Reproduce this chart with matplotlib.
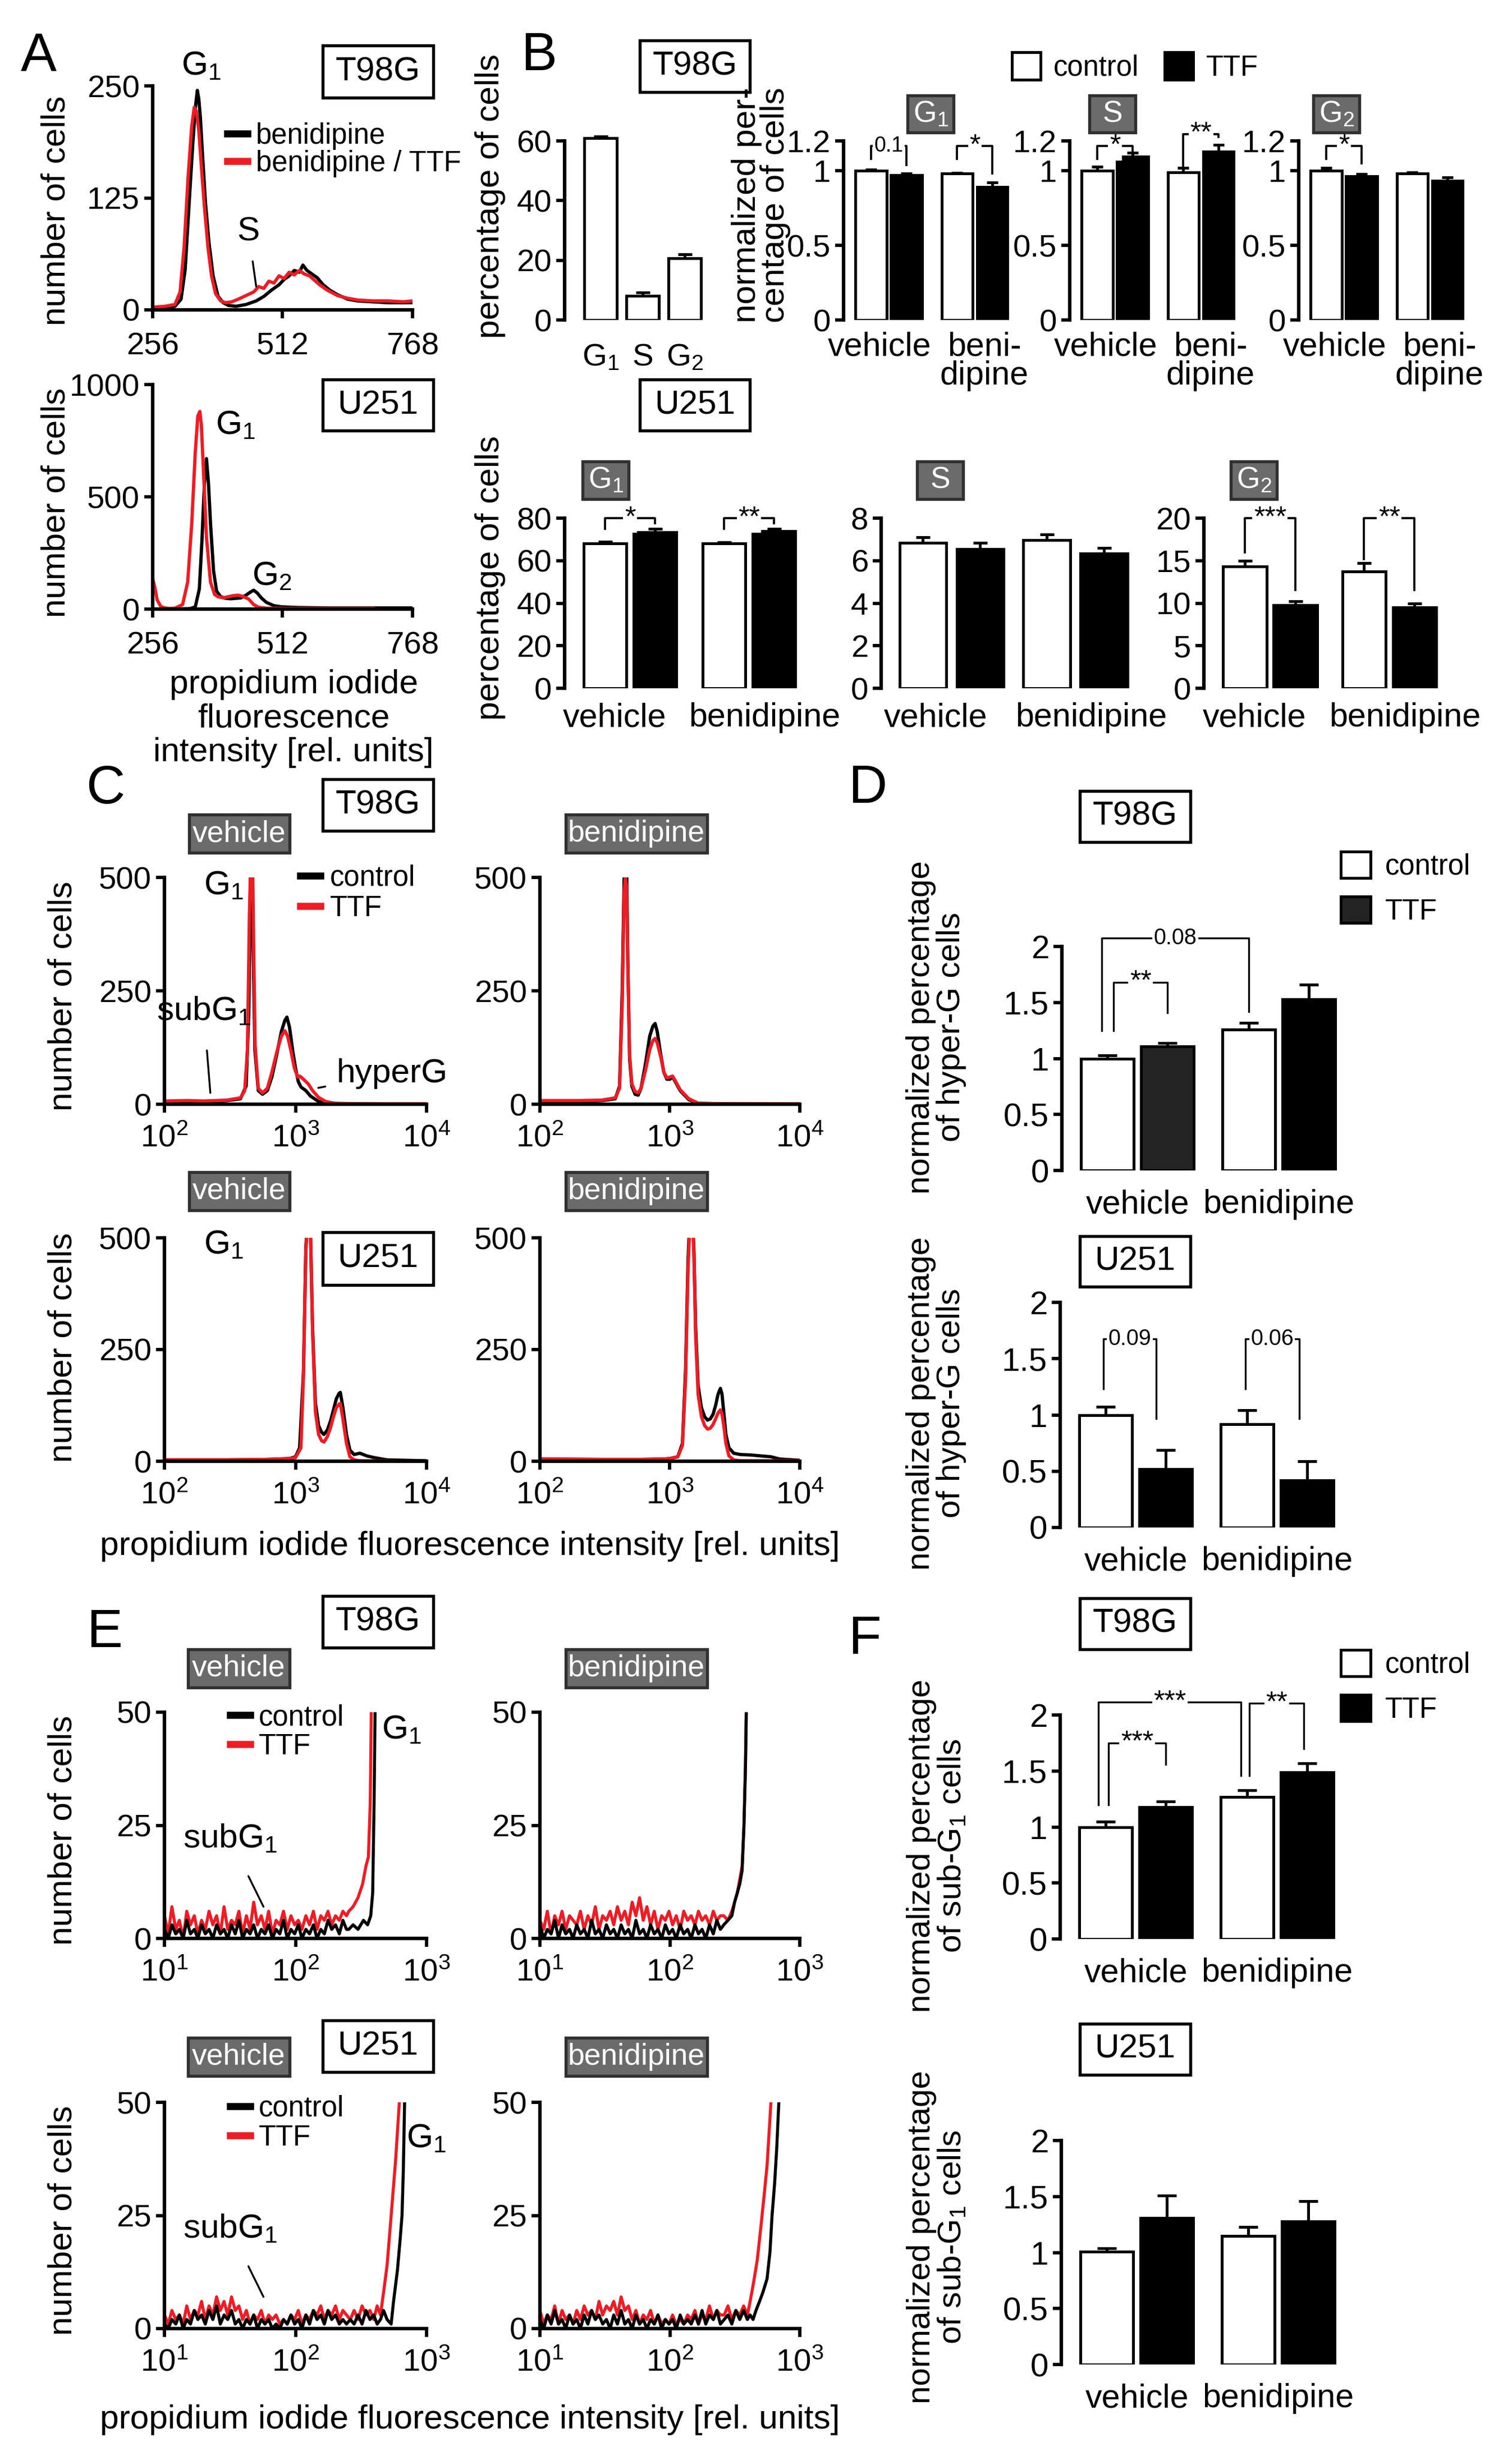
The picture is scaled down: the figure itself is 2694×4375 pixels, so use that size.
import numpy as np
import matplotlib
matplotlib.use('Agg')
import matplotlib.pyplot as plt
from matplotlib.patches import Rectangle
from matplotlib.ticker import NullLocator

plt.rcParams['font.family'] = ['Liberation Sans', 'DejaVu Sans']
plt.rcParams['mathtext.default'] = 'regular'
plt.rcParams['axes.linewidth'] = 1.5

RED = '#ee1c24'

# ---------------- data ----------------
# A: PI histograms, linear channels 256-768
a_t98g_beni_x = [256, 280, 300, 312, 320, 328, 335, 340, 344, 347, 350, 354, 360, 367, 375, 385, 395, 405, 420, 440,
                 460, 475, 490, 505, 515, 525, 535, 545, 552, 560, 570, 580, 592, 605, 620, 640, 660, 690, 720, 750, 768]
a_t98g_beni_y = [2, 3, 4, 12, 45, 120, 185, 225, 245, 235, 215, 175, 120, 75, 38, 15, 8, 5, 4, 6,
                 10, 15, 22, 28, 34, 38, 44, 42, 50, 44, 40, 36, 28, 22, 17, 12, 10, 9, 8, 8, 8]
a_t98g_ttf_x = [256, 280, 300, 310, 318, 326, 333, 338, 342, 347, 352, 358, 365, 372, 380, 390, 400, 412, 425, 440,
                455, 465, 475, 485, 495, 505, 515, 525, 535, 545, 555, 565, 575, 585, 600, 620, 640, 660, 690, 720, 750, 768]
a_t98g_ttf_y = [3, 4, 6, 20, 70, 150, 205, 226, 222, 200, 160, 115, 70, 38, 18, 10, 8, 9, 12, 16,
                20, 26, 24, 32, 30, 38, 35, 42, 39, 44, 40, 38, 33, 28, 22, 16, 13, 11, 10, 10, 9, 10]

a_u251_beni_x = [256, 300, 330, 340, 348, 353, 358, 362, 366, 370, 376, 382, 390, 400, 410, 420, 430, 440, 448, 455,
                 462, 470, 480, 495, 510, 540, 600, 680, 768]
a_u251_beni_y = [0, 0, 2, 10, 90, 300, 560, 670, 560, 380, 170, 80, 55, 48, 46, 48, 50, 62, 75, 84,
                 72, 50, 30, 15, 10, 7, 5, 5, 5]
a_u251_ttf_x = [256, 260, 265, 272, 280, 290, 300, 315, 325, 333, 340, 345, 349, 352, 356, 362, 370, 378, 385, 395,
                405, 415, 425, 435, 445, 455, 465, 480, 520, 600, 692]
a_u251_ttf_y = [135, 100, 40, 12, 5, 3, 4, 20, 120, 380, 700, 860, 880, 820, 620, 320, 120, 65, 55, 50,
                55, 60, 62, 55, 45, 20, 8, 4, 3, 3, 3]

# B: cell-cycle phases
phases = ['G$_1$', 'S', 'G$_2$']
b_t98g_pct = [61.0, 8.0, 20.7]
b_t98g_pct_err = [0.5, 1.2, 1.3]

b_t98g_g1_ctrl, b_t98g_g1_ctrl_err = [1.00, 0.98], [0.01, 0.005]
b_t98g_g1_ttf, b_t98g_g1_ttf_err = [0.97, 0.89], [0.01, 0.03]
b_t98g_s_ctrl, b_t98g_s_ctrl_err = [1.00, 0.99], [0.026, 0.03]
b_t98g_s_ttf, b_t98g_s_ttf_err = [1.095, 1.13], [0.025, 0.045]
b_t98g_g2_ctrl, b_t98g_g2_ctrl_err = [1.00, 0.98], [0.02, 0.01]
b_t98g_g2_ttf, b_t98g_g2_ttf_err = [0.963, 0.933], [0.014, 0.022]

b_u251_g1_ctrl, b_u251_g1_ctrl_err = [68.0, 68.0], [0.8, 0.6]
b_u251_g1_ttf, b_u251_g1_ttf_err = [73.4, 74.0], [1.5, 1.0]
b_u251_s_ctrl, b_u251_s_ctrl_err = [6.84, 6.97], [0.27, 0.26]
b_u251_s_ttf, b_u251_s_ttf_err = [6.55, 6.34], [0.29, 0.26]
b_u251_g2_ctrl, b_u251_g2_ctrl_err = [14.3, 13.7], [0.7, 1.0]
b_u251_g2_ttf, b_u251_g2_ttf_err = [9.8, 9.5], [0.45, 0.5]

# C: PI histograms, log channels 10^2-10^4
c_t98g_veh_ctrl_x = [100, 150, 200, 300, 380, 420, 440, 455, 465, 475, 490, 520, 560, 610, 660, 720, 780, 830, 860, 900,
                     950, 1000, 1050, 1100, 1200, 1300, 1500, 1800, 2500, 5000, 10000]
c_t98g_veh_ctrl_y = [5, 6, 5, 8, 12, 40, 200, 520, 540, 350, 120, 30, 22, 30, 60, 110, 160, 185, 192, 170,
                     120, 80, 50, 38, 30, 18, 6, 2, 1, 0, 0]
c_t98g_veh_ttf_x = [100, 150, 200, 300, 380, 410, 430, 445, 458, 468, 478, 492, 520, 560, 610, 660, 720, 780, 830, 870,
                    920, 980, 1040, 1080, 1150, 1250, 1350, 1500, 1700, 2000, 3000, 10000]
c_t98g_veh_ttf_y = [7, 8, 7, 9, 14, 30, 120, 420, 560, 600, 380, 130, 35, 25, 35, 70, 115, 150, 162, 150,
                    120, 80, 60, 62, 55, 45, 30, 15, 6, 2, 1, 1]
c_t98g_beni_x = [100, 200, 300, 380, 410, 430, 445, 455, 465, 475, 490, 510, 540, 570, 600, 650, 700, 740, 770, 800,
                 850, 900, 950, 1000, 1050, 1100, 1200, 1400, 1660, 2500, 10000]
c_t98g_beni_ctrl_y = [6, 6, 8, 12, 40, 250, 500, 560, 520, 320, 100, 40, 22, 20, 35, 90, 150, 172, 178, 160,
                      110, 70, 55, 55, 60, 50, 30, 10, 2, 1, 0]
c_t98g_beni_ttf_y = [8, 8, 9, 14, 35, 220, 470, 498, 480, 300, 110, 45, 28, 25, 35, 75, 120, 140, 145, 135,
                     105, 70, 58, 60, 62, 52, 32, 12, 2, 1, 1]

c_u251_veh_ctrl_x = [100, 300, 600, 900, 1000, 1075, 1150, 1200, 1250, 1300, 1350, 1420, 1500, 1580, 1650,
                     1750, 1850, 1950, 2050, 2150, 2200, 2300, 2450, 2600, 2800, 3100, 3500, 4000, 5000, 10000]
c_u251_veh_ctrl_y = [3, 3, 4, 6, 10, 30, 200, 480, 560, 520, 300, 130, 80, 65, 60,
                     70, 90, 115, 140, 152, 154, 120, 60, 25, 15, 18, 12, 8, 3, 1]
c_u251_veh_ttf_x = [100, 300, 600, 900, 1000, 1100, 1150, 1200, 1250, 1300, 1350, 1420, 1500, 1580, 1650,
                    1750, 1850, 1950, 2050, 2150, 2200, 2300, 2450, 2600, 2800, 3100, 10000]
c_u251_veh_ttf_y = [3, 3, 4, 6, 8, 30, 190, 470, 560, 520, 290, 110, 60, 46, 43,
                    55, 75, 100, 120, 128, 129, 95, 40, 10, 3, 1, 0]
c_u251_beni_x = [100, 300, 600, 900, 1000, 1150, 1250, 1320, 1380, 1430, 1480, 1530, 1580, 1650, 1750, 1850, 1950,
                 2050, 2150, 2250, 2350, 2450, 2520, 2600, 2700, 2850, 3100, 3500, 4200, 5000, 6000, 7000, 10000]
c_u251_beni_ctrl_y = [5, 4, 4, 5, 6, 10, 40, 200, 450, 560, 560, 480, 300, 170, 120, 100, 92,
                      95, 105, 125, 150, 163, 150, 110, 60, 30, 18, 15, 14, 12, 10, 5, 2]
c_u251_beni_ttf_y = [5, 4, 4, 5, 6, 10, 35, 180, 430, 540, 560, 470, 280, 150, 100, 80, 72,
                     74, 82, 95, 108, 115, 105, 80, 40, 12, 3, 1, 1, 1, 1, 1, 1]

# D: normalized hyper-G
treatments = ['vehicle', 'benidipine']
d_t98g_ctrl, d_t98g_ctrl_err = [1.00, 1.26], [0.03, 0.06]
d_t98g_ttf, d_t98g_ttf_err = [1.11, 1.53], [0.03, 0.13]
d_u251_ctrl, d_u251_ctrl_err = [1.00, 0.92], [0.07, 0.12]
d_u251_ttf, d_u251_ttf_err = [0.52, 0.42], [0.17, 0.17]

# E: sub-G1 zoom, log channels 10^1-10^3
e_base_x = [10, 10.7, 11.4, 12.2, 13, 13.9, 14.8, 15.8, 16.9, 18, 19.2, 20.5, 21.9, 23.4, 25, 26.7, 28.5, 30.4,
            32.5, 34.7, 37, 39.5, 42.2, 45, 48, 51.3, 54.8, 58.5, 62.4, 66.6, 71.1, 75.9, 81, 86.5, 92.3, 98.5,
            105, 112, 120, 128, 137, 146, 156, 166, 177, 189, 202, 216, 230, 245]
e_t98g_veh_ctrl_base = [2, 0, 3, 1, 2, 0, 4, 1, 2, 0, 3, 1, 2, 0, 3, 1, 2, 0, 3, 1, 4, 0, 2, 1, 3,
                        0, 2, 1, 3, 0, 2, 1, 4, 0, 2, 1, 3, 0, 2, 1, 3, 0, 2, 1, 4, 2, 3, 1, 4, 2]
e_t98g_veh_ttf_base = [5, 1, 7, 2, 4, 0, 6, 3, 5, 1, 4, 2, 6, 3, 5, 1, 7, 2, 4, 3, 6, 1, 5, 2, 8,
                       3, 5, 2, 6, 1, 4, 3, 6, 2, 5, 3, 4, 2, 5, 3, 6, 2, 5, 4, 6, 3, 5, 4, 6, 5]
e_t98g_veh_ctrl_rise_x = [255, 275, 300, 330, 355, 375, 388, 398, 408]
e_t98g_veh_ctrl_rise_y = [2, 3, 2, 4, 3, 5, 10, 30, 60]
e_t98g_veh_ttf_rise_x = [255, 275, 300, 325, 345, 360, 372, 382]
e_t98g_veh_ttf_rise_y = [6, 7, 9, 12, 16, 18, 30, 60]

e_t98g_beni_ctrl_base = [3, 0, 2, 1, 4, 0, 3, 1, 2, 0, 3, 1, 2, 0, 4, 1, 2, 0, 3, 1, 2, 0, 3, 1, 2,
                         0, 4, 1, 2, 0, 3, 1, 2, 0, 3, 1, 2, 0, 3, 1, 2, 0, 3, 1, 2, 0, 3, 1, 4, 2]
e_t98g_beni_ttf_base = [4, 2, 6, 1, 5, 3, 6, 2, 5, 4, 3, 6, 2, 5, 3, 7, 2, 5, 4, 6, 3, 7, 4, 6, 3,
                        8, 5, 9, 4, 7, 3, 6, 2, 5, 4, 6, 3, 5, 2, 6, 4, 5, 3, 6, 4, 5, 3, 6, 4, 5]
e_t98g_beni_rise_x = [260, 280, 300, 315, 330, 345, 360, 372, 382, 392]
e_t98g_beni_ctrl_rise_y = [3, 4, 5, 8, 10, 12, 15, 25, 38, 60]
e_t98g_beni_ttf_rise_y = [5, 4, 6, 8, 10, 13, 16, 25, 38, 60]

e_u251_veh_ctrl_base = [1, 0, 2, 1, 3, 0, 2, 1, 4, 2, 3, 1, 4, 2, 5, 1, 3, 2, 4, 1, 2, 0, 2, 1, 3,
                        0, 2, 1, 2, 0, 1, 0, 2, 1, 3, 1, 2, 0, 3, 1, 4, 2, 3, 1, 4, 2, 3, 1, 2, 1]
e_u251_veh_ttf_base = [3, 1, 4, 2, 3, 1, 5, 2, 4, 3, 6, 2, 5, 3, 7, 4, 6, 3, 7, 4, 5, 2, 4, 1, 3,
                       2, 4, 1, 3, 2, 3, 1, 2, 1, 3, 2, 4, 1, 3, 2, 4, 3, 5, 2, 4, 3, 5, 2, 4, 3]
e_u251_veh_ctrl_rise_x = [262, 280, 300, 322, 345, 370, 395, 420, 445, 470, 500, 537, 560, 600, 630, 650, 665, 680, 695]
e_u251_veh_ctrl_rise_y = [2, 1, 3, 1, 4, 2, 3, 1, 2, 4, 2, 1, 6, 13, 20, 25, 35, 50, 60]
e_u251_veh_ttf_rise_x = [262, 280, 300, 322, 345, 370, 395, 420, 445, 470, 500, 537, 580, 620, 645]
e_u251_veh_ttf_rise_y = [2, 4, 2, 5, 3, 4, 2, 5, 3, 8, 14, 25, 37, 50, 58]

e_u251_beni_ctrl_base = [2, 0, 3, 1, 4, 1, 2, 0, 3, 1, 2, 0, 3, 1, 4, 2, 3, 1, 2, 0, 3, 1, 4, 1, 2,
                         0, 3, 1, 2, 0, 2, 1, 3, 0, 2, 1, 2, 0, 3, 1, 2, 1, 3, 1, 4, 1, 3, 2, 4, 1]
e_u251_beni_ttf_base = [4, 1, 3, 2, 5, 1, 4, 2, 3, 1, 4, 2, 5, 3, 4, 2, 6, 3, 5, 4, 6, 3, 7, 4, 5,
                        2, 4, 1, 3, 2, 4, 1, 3, 1, 2, 1, 3, 1, 2, 1, 3, 2, 4, 1, 3, 2, 5, 2, 4, 3]
e_u251_beni_ctrl_rise_x = [262, 280, 300, 322, 345, 370, 395, 415, 437, 460, 490, 520, 560, 590, 612, 640, 665, 690, 705]
e_u251_beni_ctrl_rise_y = [2, 3, 1, 4, 2, 4, 2, 3, 2, 4, 6, 8, 11, 17, 25, 32, 40, 50, 58]
e_u251_beni_ttf_rise_x = [262, 280, 300, 322, 345, 370, 395, 415, 440, 470, 500, 530, 560, 600, 620]
e_u251_beni_ttf_rise_y = [3, 5, 2, 4, 3, 5, 3, 6, 10, 15, 22, 29, 36, 50, 58]

# F: normalized sub-G1
f_t98g_ctrl, f_t98g_ctrl_err = [1.00, 1.27], [0.05, 0.06]
f_t98g_ttf, f_t98g_ttf_err = [1.18, 1.49], [0.05, 0.08]
f_u251_ctrl, f_u251_ctrl_err = [1.01, 1.15], [0.03, 0.08]
f_u251_ttf, f_u251_ttf_err = [1.31, 1.28], [0.20, 0.18]

# ---------------- layout helpers (pixel coords of a 2695x4375 canvas) ----------------
W, H = 2695, 4375
fig = plt.figure(figsize=(W / 300, H / 300), dpi=300)

FS_TICK = 13.5
FS_LAB = 14.5
FS_XBAR = 14.2
FS_BOX = 14.5
FS_GRAY = 12.8
FS_LEG = 12.2


def px_axes(left, right, top, bottom):
    return fig.add_axes([left / W, 1 - bottom / H, (right - left) / W, (bottom - top) / H])


def ftext(x, y, s, **kw):
    kw.setdefault('ha', 'center')
    kw.setdefault('va', 'center')
    return fig.text(x / W, 1 - y / H, s, **kw)


def box_label(x0, x1, y0, y1, s, gray=False, size=FS_BOX):
    fc, ec, col = ('#6b6b6b', '#303030', 'white') if gray else ('white', 'black', 'black')
    fig.add_artist(Rectangle((x0 / W, 1 - y1 / H), (x1 - x0) / W, (y1 - y0) / H,
                             transform=fig.transFigure, fc=fc, ec=ec, lw=1.3))
    ftext((x0 + x1) / 2, (y0 + y1) / 2, s, color=col, size=size)


def hist_axes(rect, xlim, ylim, xticks, xlabels, yticks, log=False, xpad=6):
    ax = px_axes(*rect)
    if log:
        ax.set_xscale('log')
    ax.set_xlim(xlim)
    ax.set_ylim(ylim)
    ax.spines[['top', 'right']].set_visible(False)
    ax.set_xticks(xticks, xlabels)
    ax.set_yticks(yticks)
    ax.xaxis.set_minor_locator(NullLocator())
    ax.tick_params(direction='out', length=3.5, width=1.4, labelsize=FS_TICK)
    ax.tick_params(axis='x', pad=xpad)
    ax.tick_params(axis='y', pad=2)
    return ax


def bar_axes(xpix, unit, xmin, xmax, zero_px, top_px, top_val, ylim_top, yticks, ylabels,
             fs=FS_TICK, xfs=FS_XBAR):
    ppu = (zero_px - top_px) / top_val
    ax = px_axes(xpix, xpix + (xmax - xmin) * unit, zero_px - ylim_top * ppu, zero_px)
    ax.set_xlim(xmin, xmax)
    ax.set_ylim(0, ylim_top)
    ax.spines[['top', 'right', 'bottom']].set_visible(False)
    ax.spines['left'].set_bounds(0, top_val)
    ax.set_yticks(yticks, ylabels)
    ax.tick_params(axis='y', direction='out', length=3.5, width=1.4, labelsize=fs, pad=2)
    ax.tick_params(axis='x', length=0, labelsize=xfs)
    return ax


def pair_bars(ax, ctrl, ctrl_err, ttf, ttf_err, gap, width, ttf_colors=('black', 'black'), cap=3):
    xc = np.array([0.0, gap])
    z = np.zeros(2)
    ekw = dict(elinewidth=1.2, capthick=1.2)
    bc = ax.bar(xc, ctrl, width, color='white', edgecolor='black', lw=1.2,
                yerr=[z, ctrl_err], capsize=cap, error_kw=ekw, label='control')
    bt = ax.bar(xc + 1, ttf, width, color=list(ttf_colors), edgecolor='black', lw=1.2,
                yerr=[z, ttf_err], capsize=cap, error_kw=ekw, label='TTF')
    return xc + 0.5, bc, bt


def bracket(ax, x1, x2, ytop, y1, y2, label, fs=12, lw=0.9):
    ax.plot([x1, x1, x2, x2], [y1, ytop, ytop, y2], color='black', lw=lw, clip_on=False)
    ax.text((x1 + x2) / 2, ytop, label, ha='center', va='center', fontsize=fs, clip_on=False,
            bbox=dict(fc='white', ec='none', pad=0.6))


# ---------------- A ----------------
ftext(69, 100, 'A', size=23)
ax = hist_axes((272, 735, 153, 552), (256, 768), (0, 250), [256, 512, 768], ['256', '512', '768'], [0, 125, 250])
ax.plot(a_t98g_beni_x, a_t98g_beni_y, color='black', lw=1.4, label='benidipine')
ax.plot(a_t98g_ttf_x, a_t98g_ttf_y, color=RED, lw=1.4, label='benidipine / TTF')
leg = ax.legend(loc='upper left', bbox_to_anchor=(405 / W, 1 - 218 / H), bbox_transform=fig.transFigure,
                frameon=False, fontsize=FS_LEG, handlelength=0.7, handletextpad=0.3, labelspacing=0.0,
                borderpad=0, borderaxespad=0)
for ln in leg.get_lines():
    ln.set_linewidth(3)
ax.annotate('S', xy=(460, 26), xytext=(445, 87), ha='center', va='center', fontsize=FS_LAB,
            arrowprops=dict(arrowstyle='-', lw=0.8, shrinkA=4, shrinkB=0))
ftext(359, 118, 'G$_1$', size=FS_LAB)
ftext(100, 375, 'number of cells', size=FS_LAB, rotation=90)
box_label(575, 772, 81, 174, 'T98G')

ax = hist_axes((272, 735, 685, 1085), (256, 768), (0, 1000), [256, 512, 768], ['256', '512', '768'], [0, 500, 1000])
ax.plot(a_u251_beni_x, a_u251_beni_y, color='black', lw=1.4)
ax.plot(a_u251_ttf_x, a_u251_ttf_y, color=RED, lw=1.4)
ftext(420, 758, 'G$_1$', size=FS_LAB)
ftext(484, 1027, 'G$_2$', size=FS_LAB)
ftext(100, 895, 'number of cells', size=FS_LAB, rotation=90)
ftext(523, 1280, 'propidium iodide\nfluorescence\nintensity [rel. units]', size=FS_LAB, linespacing=1.12)
box_label(575, 772, 676, 767, 'U251')

# ---------------- B ----------------
ftext(960, 100, 'B', size=23)
box_label(1140, 1336, 72, 164, 'T98G')
ax = bar_axes(1006, 75, -0.85, 2.5, 570, 251, 60, 64, [0, 20, 40, 60], ['0', '20', '40', '60'])
ax.bar([0, 1, 2], b_t98g_pct, 0.77, color='white', edgecolor='black', lw=1.2,
       yerr=[np.zeros(3), b_t98g_pct_err], capsize=3, error_kw=dict(elinewidth=1.2, capthick=1.2))
ax.set_xticks([0, 1, 2], phases)
ax.tick_params(axis='x', pad=10, labelsize=FS_TICK)
ftext(874, 350, 'percentage of cells', size=FS_LAB, rotation=90)
ftext(1356, 365, 'normalized per-\ncentage of cells', size=FS_LAB, rotation=90, linespacing=0.92)

gB = 2.43
norm_ticks = ([0, 0.5, 1, 1.2], ['0', '0.5', '1', '1.2'])
legB = None
for xpix, ctrl, ce, ttf, te, tag, bx in [
        (1503, b_t98g_g1_ctrl, b_t98g_g1_ctrl_err, b_t98g_g1_ttf, b_t98g_g1_ttf_err, 'G1', 1617),
        (1906, b_t98g_s_ctrl, b_t98g_s_ctrl_err, b_t98g_s_ttf, b_t98g_s_ttf_err, 'S', 1941),
        (2314, b_t98g_g2_ctrl, b_t98g_g2_ctrl_err, b_t98g_g2_ttf, b_t98g_g2_ttf_err, 'G2', 2340)]:
    ax = bar_axes(xpix, 63, -0.78, 3.9, 570, 251, 1.2, 1.3, *norm_ticks)
    centers, bc, bt = pair_bars(ax, ctrl, ce, ttf, te, gB, 0.88, cap=2.5)
    ax.set_xticks(centers + np.array([-0.27, 0.27]), ['vehicle', 'beni-\ndipine'])
    for lbl in ax.get_xticklabels():
        lbl.set_linespacing(0.92)
    ax.tick_params(axis='x', pad=5)
    box_label(bx, bx + 82, 170, 236, {'G1': 'G$_1$', 'S': 'S', 'G2': 'G$_2$'}[tag], gray=True, size=FS_GRAY)
    if tag == 'G1':
        bracket(ax, 0, 1, 1.166, 1.08, 1.04, '0.1', fs=9)
        bracket(ax, gB, gB + 1, 1.166, 1.08, 0.98, '*')
        legB = (bc, bt)
    elif tag == 'S':
        bracket(ax, 0, 1, 1.166, 1.08, 1.13, '*')
        bracket(ax, gB, gB + 1, 1.247, 1.03, 1.225, '**')
    else:
        bracket(ax, 0, 1, 1.166, 1.08, 1.048, '*')
ax.legend(legB, ['control', 'TTF'], loc='upper left', bbox_to_anchor=(1803 / W, 1 - 93 / H),
          bbox_transform=fig.transFigure, ncol=2, frameon=False, fontsize=FS_LEG, handlelength=1.0,
          handleheight=1.1, handletextpad=0.45, columnspacing=0.9, borderpad=0, borderaxespad=0)

# B, U251
box_label(1140, 1336, 676, 767, 'U251')
ftext(874, 1030, 'percentage of cells', size=FS_LAB, rotation=90)
for xpix, unit, xmin, gap, w, top, tks, ctrl, ce, ttf, te, tag, bx in [
        (1006, 89, -0.81, 2.38, 0.85, 80, [0, 20, 40, 60, 80],
         b_u251_g1_ctrl, b_u251_g1_ctrl_err, b_u251_g1_ttf, b_u251_g1_ttf_err, 'G1', 1038),
        (1570, 102, -0.73, 2.16, 0.82, 8, [0, 2, 4, 6, 8],
         b_u251_s_ctrl, b_u251_s_ctrl_err, b_u251_s_ttf, b_u251_s_ttf_err, 'S', 1634),
        (2145, 90, -0.81, 2.36, 0.86, 20, [0, 5, 10, 15, 20],
         b_u251_g2_ctrl, b_u251_g2_ctrl_err, b_u251_g2_ttf, b_u251_g2_ttf_err, 'G2', 2193)]:
    ax = bar_axes(xpix, unit, xmin, gap + 1.6, 1226, 923, top, top * 1.05, tks, [str(t) for t in tks])
    centers, bc, bt = pair_bars(ax, ctrl, ce, ttf, te, gap, w, cap=3)
    ax.set_xticks(centers + np.array([-28, 28]) / unit, treatments)
    ax.tick_params(axis='x', pad=6)
    box_label(bx, bx + 82, 822, 889, {'G1': 'G$_1$', 'S': 'S', 'G2': 'G$_2$'}[tag], gray=True, size=FS_GRAY)
    if tag == 'G1':
        bracket(ax, 0, 1, 80, 75, 77.5, '*')
        bracket(ax, gap, gap + 1, 80, 75, 77.5, '**')
    elif tag == 'G2':
        bracket(ax, 0, 1, 20, 16.0, 11.55, '***')
        bracket(ax, gap, gap + 1, 20, 15.2, 11.55, '**')

# ---------------- C ----------------
ftext(188, 1406, 'C', size=23)
logC = ([100, 1000, 10000], ['$10^2$', '$10^3$', '$10^4$'])
c_sets = [
    ((293, 760, 1563, 1967), c_t98g_veh_ctrl_x, c_t98g_veh_ctrl_y, c_t98g_veh_ttf_x, c_t98g_veh_ttf_y),
    ((962, 1425, 1563, 1967), c_t98g_beni_x, c_t98g_beni_ctrl_y, c_t98g_beni_x, c_t98g_beni_ttf_y),
    ((293, 760, 2205, 2603), c_u251_veh_ctrl_x, c_u251_veh_ctrl_y, c_u251_veh_ttf_x, c_u251_veh_ttf_y),
    ((962, 1425, 2205, 2603), c_u251_beni_x, c_u251_beni_ctrl_y, c_u251_beni_x, c_u251_beni_ttf_y)]
c_axes = []
for rect, xk, yk, xr, yr in c_sets:
    ax = hist_axes(rect, (100, 10000), (0, 500), *logC, [0, 250, 500], log=True, xpad=5)
    ax.plot(xk, yk, color='black', lw=1.4, label='control')
    ax.plot(xr, yr, color=RED, lw=1.4, label='TTF')
    c_axes.append(ax)
leg = c_axes[0].legend(loc='upper left', bbox_to_anchor=(535 / W, 1 - 1540 / H), bbox_transform=fig.transFigure,
                       frameon=False, fontsize=FS_LEG, handlelength=0.7, handletextpad=0.35, labelspacing=0.1,
                       borderpad=0, borderaxespad=0)
for ln in leg.get_lines():
    ln.set_linewidth(3)
c_axes[0].annotate('subG$_1$', xy=(224, 25), xytext=(0.15, 0.41), textcoords='axes fraction',
                   ha='center', va='center', fontsize=FS_LAB,
                   arrowprops=dict(arrowstyle='-', lw=0.8, shrinkA=8, shrinkB=0))
c_axes[0].annotate('hyperG', xy=(1490, 36), xytext=(0.87, 0.135), textcoords='axes fraction',
                   ha='center', va='center', fontsize=FS_LAB,
                   arrowprops=dict(arrowstyle='-', lw=0.8, shrinkA=3, shrinkB=0))
ftext(399, 1578, 'G$_1$', size=FS_LAB)
ftext(399, 2218, 'G$_1$', size=FS_LAB)
ftext(112, 1774, 'number of cells', size=FS_LAB, rotation=90)
ftext(112, 2400, 'number of cells', size=FS_LAB, rotation=90)
box_label(575, 772, 1388, 1480, 'T98G')
box_label(575, 772, 2195, 2289, 'U251')
for y0 in (1451, 2088):
    box_label(337, 516, y0, y0 + 68, 'vehicle', gray=True, size=FS_GRAY)
    box_label(1008, 1260, y0, y0 + 68, 'benidipine', gray=True, size=FS_GRAY)
ftext(837, 2754, 'propidium iodide fluorescence intensity [rel. units]', size=FS_LAB)

# ---------------- D ----------------
ftext(1546, 1405, 'D', size=23)
box_label(1924, 2121, 1409, 1500, 'T98G')
box_label(1924, 2121, 2202, 2292, 'U251')
gD = 2.35
dticks = ([0, 0.5, 1, 1.5, 2], ['0', '0.5', '1', '1.5', '2'])
ax = bar_axes(1892, 107, -0.76, 3.9, 2085, 1686, 2, 2.05, *dticks, fs=14)
centers, bc, bt = pair_bars(ax, d_t98g_ctrl, d_t98g_ctrl_err, d_t98g_ttf, d_t98g_ttf_err, gD, 0.88,
                            ttf_colors=('#232323', 'black'), cap=4)
ax.set_xticks(centers, treatments)
ax.tick_params(axis='x', pad=8)
bracket(ax, -0.1, gD, 2.075, 1.25, 1.42, '0.08', fs=9.5, lw=0.8)
bracket(ax, 0.1, 1.0, 1.68, 1.25, 1.41, '**', fs=12, lw=0.8)
ax.legend([bc, bt], ['control', 'TTF'], loc='upper left', bbox_to_anchor=(2389 / W, 1 - 1517 / H),
          bbox_transform=fig.transFigure, frameon=False, fontsize=FS_LEG, handlelength=1.05,
          handleheight=1.05, handletextpad=0.5, labelspacing=0.55, borderpad=0, borderaxespad=0)
ftext(1668, 1830, 'normalized percentage\nof hyper-G cells', size=14, rotation=90, linespacing=1.0)

ax = bar_axes(1889, 107, -0.76, 3.9, 2721, 2320, 2, 2.05, *dticks, fs=14)
centers, bc, bt = pair_bars(ax, d_u251_ctrl, d_u251_ctrl_err, d_u251_ttf, d_u251_ttf_err, gD, 0.88, cap=4)
ax.set_xticks(centers, treatments)
ax.tick_params(axis='x', pad=8)
bracket(ax, -0.04, 0.84, 1.676, 1.23, 0.97, '0.09', fs=9.5, lw=0.8)
bracket(ax, gD - 0.03, gD + 0.87, 1.676, 1.23, 0.97, '0.06', fs=9.5, lw=0.8)
ftext(1668, 2500, 'normalized percentage\nof hyper-G cells', size=14, rotation=90, linespacing=1.0)

# ---------------- E ----------------
ftext(186, 2909, 'E', size=23)
logE = ([10, 100, 1000], ['$10^1$', '$10^2$', '$10^3$'])
e_sets = [
    ((293, 760, 3050, 3453), e_base_x + e_t98g_veh_ctrl_rise_x, e_t98g_veh_ctrl_base + e_t98g_veh_ctrl_rise_y,
     e_base_x + e_t98g_veh_ttf_rise_x, e_t98g_veh_ttf_base + e_t98g_veh_ttf_rise_y),
    ((962, 1425, 3050, 3453), e_base_x + e_t98g_beni_rise_x, e_t98g_beni_ctrl_base + e_t98g_beni_ctrl_rise_y,
     e_base_x + e_t98g_beni_rise_x, e_t98g_beni_ttf_base + e_t98g_beni_ttf_rise_y),
    ((293, 760, 3745, 4148), e_base_x + e_u251_veh_ctrl_rise_x, e_u251_veh_ctrl_base + e_u251_veh_ctrl_rise_y,
     e_base_x + e_u251_veh_ttf_rise_x, e_u251_veh_ttf_base + e_u251_veh_ttf_rise_y),
    ((962, 1425, 3745, 4148), e_base_x + e_u251_beni_ctrl_rise_x, e_u251_beni_ctrl_base + e_u251_beni_ctrl_rise_y,
     e_base_x + e_u251_beni_ttf_rise_x, e_u251_beni_ttf_base + e_u251_beni_ttf_rise_y)]
e_axes = []
for rect, xk, yk, xr, yr in e_sets:
    ax = hist_axes(rect, (10, 1000), (0, 50), *logE, [0, 25, 50], log=True, xpad=5)
    ax.plot(xr, yr, color=RED, lw=1.3, label='TTF')
    ax.plot(xk, yk, color='black', lw=1.3, label='control')
    e_axes.append(ax)
for ax, ytop in ((e_axes[0], 3035), (e_axes[2], 3732)):
    h, l = ax.get_legend_handles_labels()
    leg = ax.legend(h[::-1], l[::-1], loc='upper left', bbox_to_anchor=(410 / W, 1 - ytop / H),
                    bbox_transform=fig.transFigure, frameon=False, fontsize=FS_LEG, handlelength=0.7,
                    handletextpad=0.3, labelspacing=0.05, borderpad=0, borderaxespad=0)
    for ln in leg.get_lines():
        ln.set_linewidth(3)
    ax.annotate('subG$_1$', xy=(57, 7), xytext=(0.25, 0.44), textcoords='axes fraction',
                ha='center', va='center', fontsize=FS_LAB,
                arrowprops=dict(arrowstyle='-', lw=0.8, shrinkA=8, shrinkB=0))
ftext(716, 3082, 'G$_1$', size=FS_LAB)
ftext(760, 3810, 'G$_1$', size=FS_LAB)
ftext(112, 3260, 'number of cells', size=FS_LAB, rotation=90)
ftext(112, 3955, 'number of cells', size=FS_LAB, rotation=90)
box_label(575, 772, 2843, 2935, 'T98G')
box_label(575, 772, 3599, 3691, 'U251')
for y0 in (2938, 3630):
    box_label(335, 516, y0, y0 + 68, 'vehicle', gray=True, size=FS_GRAY)
    box_label(1008, 1260, y0, y0 + 68, 'benidipine', gray=True, size=FS_GRAY)
ftext(837, 4310, 'propidium iodide fluorescence intensity [rel. units]', size=FS_LAB)

# ---------------- F ----------------
ftext(1540, 2921, 'F', size=23)
box_label(1924, 2121, 2847, 2938, 'T98G')
box_label(1924, 2121, 3605, 3696, 'U251')
ax = bar_axes(1889, 107, -0.76, 3.9, 3454, 3055, 2, 2.05, *dticks, fs=14)
centers, bc, bt = pair_bars(ax, f_t98g_ctrl, f_t98g_ctrl_err, f_t98g_ttf, f_t98g_ttf_err, gD, 0.88, cap=4)
ax.set_xticks(centers, treatments)
ax.tick_params(axis='x', pad=8)
bracket(ax, -0.12, gD - 0.1, 2.115, 1.20, 1.46, '***', fs=12, lw=0.8)
bracket(ax, 0.04, 1.0, 1.75, 1.20, 1.56, '***', fs=12, lw=0.8)
bracket(ax, gD + 0.04, gD + 0.95, 2.105, 1.46, 1.70, '**', fs=12, lw=0.8)
ax.legend([bc, bt], ['control', 'TTF'], loc='upper left', bbox_to_anchor=(2389 / W, 1 - 2939 / H),
          bbox_transform=fig.transFigure, frameon=False, fontsize=FS_LEG, handlelength=1.05,
          handleheight=1.05, handletextpad=0.5, labelspacing=0.55, borderpad=0, borderaxespad=0)
ftext(1670, 3288, 'normalized percentage\nof sub-G$_1$ cells', size=14, rotation=90, linespacing=1.0)

ax = bar_axes(1891, 107, -0.76, 3.9, 4212, 3813, 2, 2.05, *dticks, fs=14)
centers, bc, bt = pair_bars(ax, f_u251_ctrl, f_u251_ctrl_err, f_u251_ttf, f_u251_ttf_err, gD, 0.88, cap=4)
ax.set_xticks(centers, treatments)
ax.tick_params(axis='x', pad=8)
ftext(1670, 3985, 'normalized percentage\nof sub-G$_1$ cells', size=14, rotation=90, linespacing=1.0)

fig.savefig('out.png', dpi=300)
